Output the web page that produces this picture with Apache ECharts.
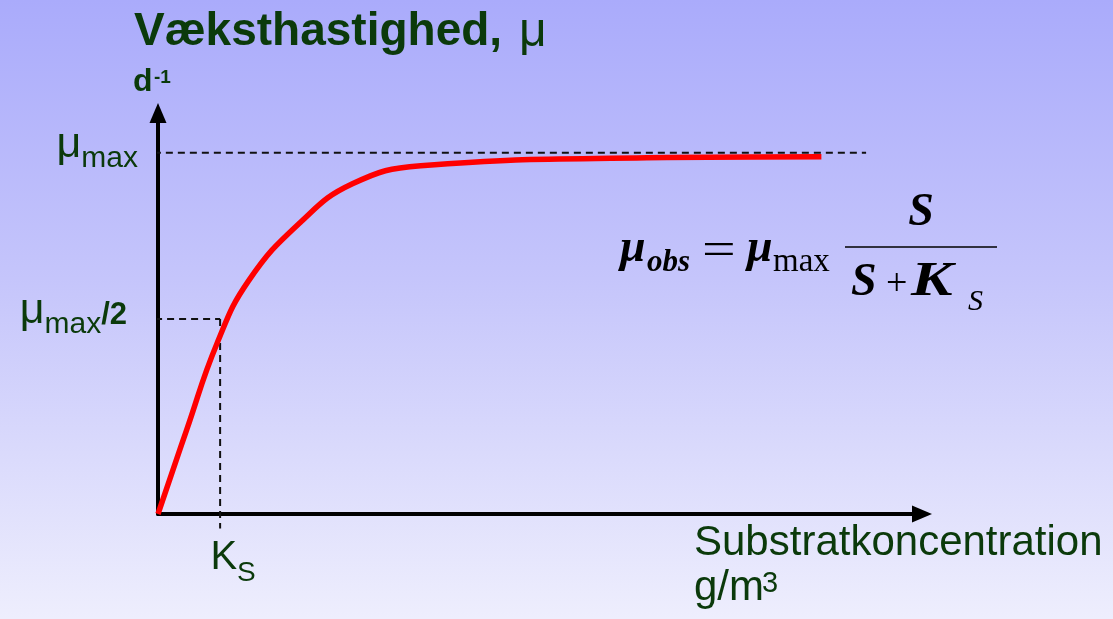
<!DOCTYPE html>
<html><head><meta charset="utf-8">
<script src="https://cdn.jsdelivr.net/npm/echarts@6/dist/echarts.min.js"></script>
<style>
html,body{margin:0;padding:0;}
#c{width:1113px;height:619px;background:linear-gradient(to bottom,#aaabfb 0%,#c5c5fb 45%,#eeeefd 100%);}
</style>
</head><body><div id="c"></div>
<script>
const sValues  = [0, 0.46, 0.95, 1.46, 2.29, 3.13, 4.23, 7.87, 10.68];
const muValues = [0, 0.232, 0.472, 0.646, 0.807, 0.914, 0.964, 0.986, 0.989];
// Reference levels
const KS = 1.0;
const MU_MAX = 1.0;
const MU_HALF = 0.54;
const X_MAX = 12.3;
const Y_MAX = 1.11;
const maxLineX = [-0.26, 11.4];
const halfLineX = [-0.24, KS];
const ksLineY = [MU_HALF, -0.04];
// Texts
const titleText = 'Væksthastighed,';
const titleMu = 'μ';
const yUnit = 'd';
const yUnitSup = '-1';
const xTitle = 'Substratkoncentration';
const xUnit = 'g/m';
const xUnitSup = '3';

const green = '#0b3a0b';
const sh = {textShadowColor:'rgba(0,20,0,0.45)', textShadowOffsetX:1.5, textShadowOffsetY:1.5, textShadowBlur:0};
const SANS = '"Liberation Sans", Arial, sans-serif';
const SERIF = '"Liberation Serif", "Times New Roman", serif';

function gtext(x, y, text, font, fill, extra, sx) {
  return {type:'text', x:x, y:y, z:10, scaleX: sx || 1,
    style:Object.assign({text:text, font:font, fill:fill, verticalAlign:'middle', align:'left'}, extra || {})};
}

const chart = echarts.init(document.getElementById('c'));
const option = {
  animation:false,
  backgroundColor:'transparent',
  grid:{left:158, right:191, top:113, bottom:105},
  xAxis:{
    type:'value', min:0, max:X_MAX,
    splitLine:{show:false}, axisTick:{show:false},
    axisLine:{onZero:false, lineStyle:{color:'#000', width:4}, symbol:['none','triangle'], symbolSize:[17,20]},
    axisLabel:{
      customValues:[KS], margin:33, color:green,
      formatter:function(){ return '{k|K}{s|S}'; },
      rich:{
        k:Object.assign({fontFamily:SANS, fontSize:40, lineHeight:40, color:green, verticalAlign:'bottom', padding:[0,0,9,26]}, sh),
        s:Object.assign({fontFamily:SANS, fontSize:28, lineHeight:28, color:green, verticalAlign:'bottom'}, sh)
      }
    }
  },
  yAxis:{
    type:'value', min:0, max:Y_MAX,
    splitLine:{show:false}, axisTick:{show:false},
    axisLine:{onZero:false, lineStyle:{color:'#000', width:4}, symbol:['none','triangle'], symbolSize:[17,20]},
    axisLabel:{
      customValues:[MU_HALF, MU_MAX], margin:20, color:green, padding:[0,0,2,0],
      formatter:function(v){ return v === MU_MAX ? '{mu|μ}{sub|max}' : '{mu|μ}{sub|max}{h|/2}'; },
      rich:{
        mu:Object.assign({fontFamily:SANS, fontSize:43, lineHeight:43, color:green, verticalAlign:'bottom', padding:[0,0,7,0]}, sh),
        sub:Object.assign({fontFamily:SANS, fontSize:30, lineHeight:30, color:green, verticalAlign:'bottom'}, sh),
        h:Object.assign({fontFamily:SANS, fontSize:31, fontWeight:'bold', lineHeight:31, color:green, verticalAlign:'bottom', padding:[0,11,8,0]}, sh)
      }
    }
  },
  series:[
    {type:'line', data:[[maxLineX[0], MU_MAX],[maxLineX[1], MU_MAX]], symbol:'none', clip:false, silent:true, z:1,
     lineStyle:{type:[7,5], width:2, color:'#111'}},
    {type:'line', data:[[halfLineX[0], MU_HALF],[halfLineX[1], MU_HALF]], symbol:'none', clip:false, silent:true, z:1,
     lineStyle:{type:[7,5], width:2, color:'#111'}},
    {type:'line', data:[[KS, ksLineY[0]],[KS, ksLineY[1]]], symbol:'none', clip:false, silent:true, z:1,
     lineStyle:{type:[7,5], width:2, color:'#111'}},
    {type:'line', data:sValues.map(function(s,i){ return [s, muValues[i]]; }), symbol:'none', smooth:0.45, clip:false, z:3,
     lineStyle:{color:'#ff0000', width:5.5, cap:'butt'}}
  ],
  graphic:[
    gtext(134, 32, titleText, 'bold 46px ' + SANS, green, sh),
    gtext(519, 33, titleMu, '48px ' + SANS, green, sh),
    gtext(133, 82, yUnit, 'bold 32px ' + SANS, green, sh),
    gtext(154, 78, yUnitSup, 'bold 19px ' + SANS, green, sh),
    gtext(694, 543, xTitle, '42px ' + SANS, green, sh),
    gtext(694, 588, xUnit, '42px ' + SANS, green, sh),
    gtext(762, 584, xUnitSup, '29px ' + SANS, green, sh),
    // formula
    gtext(620, 249, 'μ', 'bold italic 46px ' + SERIF, '#000'),
    gtext(647, 263, 'obs', 'bold italic 31px ' + SERIF, '#000'),
    gtext(702, 252, '=', '46px ' + SERIF, '#000', null, 1.3),
    gtext(747, 249, 'μ', 'bold italic 46px ' + SERIF, '#000'),
    gtext(773, 262, 'max', '33px ' + SERIF, '#000'),
    gtext(921, 213, 'S', 'bold italic 46px ' + SERIF, '#000', {align:'center'}),
    {type:'line', z:10, shape:{x1:845, y1:247, x2:997, y2:247}, style:{stroke:'#000', lineWidth:1.6}},
    gtext(851, 283, 'S', 'bold italic 46px ' + SERIF, '#000'),
    gtext(886, 285, '+', '38px ' + SERIF, '#000'),
    gtext(911, 283, 'K', 'bold italic 48px ' + SERIF, '#000', null, 1.3),
    gtext(968, 302, 'S', 'italic 30px ' + SERIF, '#000')
  ]
};
chart.setOption(option);
</script>
</body></html>
